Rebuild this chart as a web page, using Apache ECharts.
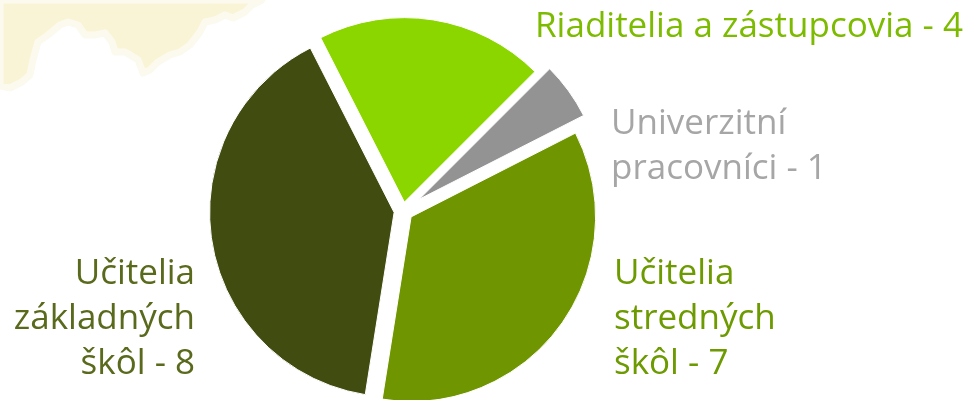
<!DOCTYPE html>
<html>
<head>
<meta charset="utf-8">
<script src="https://cdn.jsdelivr.net/npm/echarts@6/dist/echarts.min.js"></script>
<style>
html,body{margin:0;padding:0;background:#fff;}
#chart{width:971px;height:400px;}
</style>
</head>
<body>
<div id="chart"></div>
<script>
const categories = ['Riaditelia a zástupcovia', 'Univerzitní pracovníci', 'Učitelia stredných škôl', 'Učitelia základných škôl'];
const values = [4, 1, 7, 8];
const labelTexts = ['Riaditelia a zástupcovia - 4', 'Univerzitní\npracovníci - 1', 'Učitelia\nstredných\nškôl - 7', 'Učitelia\nzákladných\nškôl - 8'];
const sliceColors = ['#8cd600', '#939393', '#6f9600', '#414c10'];
const textColors = ['#7cbb00', '#a6a6a6', '#6c9a00', '#5a6a1c'];

// style: how far each slice is pulled out (px)
const explodeOffsets = [9, 20, 10, 9];

// label placement (layout only)
const labelPos = [
  {x: 535, y: 5, align: 'left'},
  {x: 611, y: 102, align: 'left'},
  {x: 614, y: 252, align: 'left'},
  {x: 195, y: 252, align: 'right'}
];

const chart = echarts.init(document.getElementById('chart'), null, {renderer: 'canvas'});

const blob = [[0,0],[262,0],[252,5],[245,12],[233,18],[225,15],[215,20],[205,22],[200,32],[190,45],[180,52],[170,55],[158,62],[150,70],[143,73],[138,60],[130,55],[125,52],[115,52],[112,42],[105,33],[95,35],[85,35],[78,25],[68,22],[60,25],[48,35],[38,42],[33,60],[30,75],[22,82],[10,88],[0,86]];

const labelGraphics = labelTexts.map((t, i) => ({
  type: 'text',
  z: 10,
  x: labelPos[i].x,
  y: labelPos[i].y,
  style: {
    text: t,
    fill: textColors[i],
    font: '35px "Open Sans"',
    align: labelPos[i].align,
    verticalAlign: 'top',
    lineHeight: 45
  }
}));

function pieSeries(offset) {
  return {
    type: 'pie',
    center: [403, 211],
    radius: [0, 184.5],
    startAngle: 117,
    clockwise: true,
    selectedMode: 'multiple',
    selectedOffset: offset,
    silent: true,
    emphasis: {disabled: true},
    label: {show: false},
    labelLine: {show: false},
    data: categories.map((c, i) => {
      const visible = explodeOffsets[i] === offset;
      return {
        name: c,
        value: values[i],
        selected: visible,
        itemStyle: visible
          ? {color: sliceColors[i], borderColor: '#ffffff', borderWidth: 1}
          : {color: 'rgba(0,0,0,0)', borderWidth: 0}
      };
    })
  };
}

const distinctOffsets = Array.from(new Set(explodeOffsets));

chart.setOption({
  backgroundColor: '#ffffff',
  animation: false,
  graphic: [{
    type: 'polygon',
    z: -10,
    shape: {points: blob},
    style: {fill: '#faf4d6', stroke: '#fcfaee', lineWidth: 7, lineJoin: 'round'}
  }].concat(labelGraphics),
  series: distinctOffsets.map(pieSeries)
});
</script>
</body>
</html>
